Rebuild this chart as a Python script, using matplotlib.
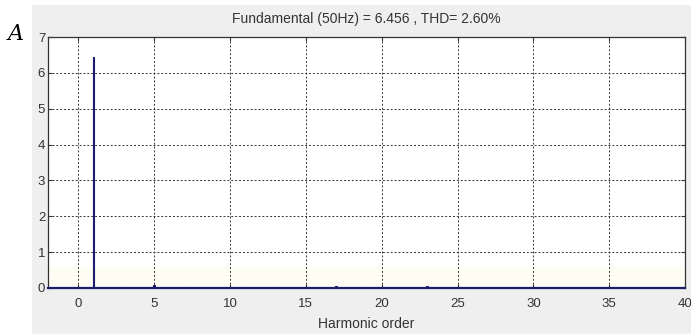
import matplotlib

matplotlib.use("Agg")

import matplotlib.pyplot as plt
from matplotlib.patches import Rectangle
import numpy as np

# harmonic spectrum (order 0..40), magnitude in A
orders = np.arange(0, 41)
magnitudes = [
    0.02, 6.456, 0.01, 0.03, 0.01, 0.08, 0.01, 0.04, 0.01, 0.01,
    0.01, 0.03, 0.01, 0.03, 0.01, 0.01, 0.01, 0.06, 0.01, 0.02,
    0.01, 0.01, 0.01, 0.05, 0.01, 0.03, 0.01, 0.01, 0.01, 0.02,
    0.01, 0.01, 0.01, 0.01, 0.01, 0.02, 0.01, 0.01, 0.01, 0.01,
    0.01,
]
fundamental = 6.456
thd = 2.60

W, H = 691, 334
fig = plt.figure(figsize=(W / 100, H / 100), dpi=100)
fig.patch.set_facecolor("white")

# grey figure panel behind the axes
fig.patches.append(Rectangle((32 / W, 0), 1 - 32 / W, 1 - 5 / H,
                             transform=fig.transFigure, facecolor="#efefef",
                             edgecolor="none", zorder=-1))

ax = fig.add_axes([48 / W, 1 - 288 / H, (685 - 48) / W, (288 - 37) / H])
ax.set_zorder(2)
ax.set_facecolor("white")
ax.axhspan(0, 0.6, color="#fefdf4", zorder=0, linewidth=0)
ax.bar(orders, magnitudes, width=0.12, color="#1c1c6e", edgecolor="#1c1c6e",
       linewidth=0.8, zorder=3)

ax.set_xlim(-2, 40)
ax.set_ylim(0, 7)
ax.set_xticks(np.arange(0, 41, 5))
ax.set_yticks(np.arange(0, 8, 1))
ax.grid(True, linestyle=(0, (2, 2)), color="#333333", linewidth=0.7)
ax.tick_params(direction="in", length=3, labelsize=9.5, colors="#333333",
               top=True, right=True, labeltop=False, labelright=False)
ax.tick_params(axis="x", pad=7)
ax.tick_params(axis="y", pad=2)
for lbl in ax.get_xticklabels() + ax.get_yticklabels():
    lbl.set_fontfamily("Liberation Sans")
for sp in ax.spines.values():
    sp.set_color("#333333")
    sp.set_linewidth(0.9)
ax.spines["bottom"].set_color("#1c1c6e")
ax.spines["bottom"].set_linewidth(1.6)

ax.set_title(f"Fundamental (50Hz) = {fundamental} , THD= {thd:.2f}%",
             fontsize=10, family="Liberation Sans", color="#333333", pad=10)
ax.set_xlabel("Harmonic order", fontsize=10, family="Liberation Sans",
              color="#333333", labelpad=5)

fig.text(8 / W, 1 - 34 / H, "A", fontsize=16, family="DejaVu Serif",
         style="italic", va="center", ha="left", color="black")

fig.savefig("out.png", dpi=100)
